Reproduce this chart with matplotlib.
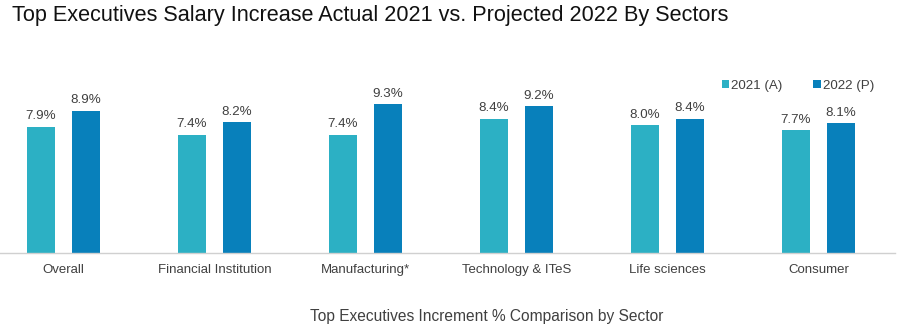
import numpy as np
import matplotlib.pyplot as plt

plt.rcParams['font.family'] = ['Liberation Sans', 'DejaVu Sans']

sectors = ["Overall", "Financial Institution", "Manufacturing*",
           "Technology & ITeS", "Life sciences", "Consumer"]
actual_2021 = [7.9, 7.4, 7.4, 8.4, 8.0, 7.7]
projected_2022 = [8.9, 8.2, 9.3, 9.2, 8.4, 8.1]
series_labels = ["2021 (A)", "2022 (P)"]

color_2021 = "#2cb0c4"
color_2022 = "#0880bb"
text_gray = "#404040"

fig = plt.figure(figsize=(9.01, 3.34), dpi=100)
ax = fig.add_axes([0.0, 81 / 334, 895 / 901, 192 / 334])

x = np.arange(len(sectors))
width = 0.185
offset = 0.149

bars_a = ax.bar(x - offset, actual_2021, width, color=color_2021, label=series_labels[0])
bars_p = ax.bar(x + offset, projected_2022, width, color=color_2022, label=series_labels[1])

for bars, vals in ((bars_a, actual_2021), (bars_p, projected_2022)):
    for b, v in zip(bars, vals):
        ax.annotate(f"{v:.1f}%", (b.get_x() + b.get_width() / 2, v),
                    xytext=(0, 3), textcoords="offset points",
                    ha="center", va="bottom", fontsize=9.6, color=text_gray)

ax.set_xlim(-0.42, 5.507)
ax.set_ylim(0, 12)
ax.set_xticks(x)
ax.set_xticklabels(sectors, fontsize=9.5, color=text_gray)
ax.tick_params(axis="x", length=0, pad=8)
ax.set_yticks([])
for side in ("top", "right", "left"):
    ax.spines[side].set_visible(False)
ax.spines["bottom"].set_color("#d0d0d0")
ax.spines["bottom"].set_linewidth(1.0)

ax.legend(loc="upper left", bbox_to_anchor=(722 / 901, 1 - 80 / 334),
          bbox_transform=fig.transFigure, ncol=2, frameon=False,
          handlelength=0.55, handleheight=0.55, handletextpad=0.15,
          columnspacing=2.3, fontsize=9.6, labelcolor=text_gray,
          borderpad=0, borderaxespad=0)

fig.text(12 / 901, 1 - 16 / 334,
         "Top Executives Salary Increase Actual 2021 vs. Projected 2022 By Sectors",
         fontsize=15.6, color="#111111", ha="left", va="center")
fig.text(487 / 901, 1 - 316 / 334, "Top Executives Increment % Comparison by Sector",
         fontsize=11.2, color=text_gray, ha="center", va="center")

fig.savefig("out.png", dpi=100)
